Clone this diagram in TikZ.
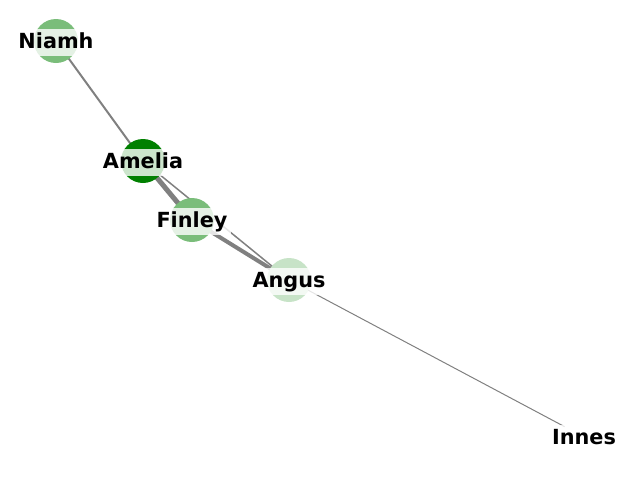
\documentclass[tikz,border=0pt]{standalone}
\usepackage{fontspec}
\setmainfont{DejaVu Sans}
\pgfdeclarelayer{bg}
\pgfsetlayers{bg,main}
\begin{document}
\begin{tikzpicture}[x=1pt,y=-1pt,
  vtx/.style={circle,draw=none,minimum size=44pt,inner sep=0pt},
  lbl/.style={fill=white,fill opacity=0.8,text opacity=1,anchor=base,
    inner xsep=4pt,inner ysep=4.5pt,text height=15pt,text depth=3pt,
    font=\fontsize{20.8}{24}\selectfont\bfseries},
  edge/.style={draw=egray}]
\definecolor{mygreen}{RGB}{0,128,0}
\definecolor{egray}{RGB}{128,128,128}
\useasboundingbox (0,0) rectangle (640,480);
% vertices
\node[vtx,fill=mygreen!52] (Niamh) at (56,41) {};
\node[vtx,fill=mygreen] (Amelia) at (143,161) {};
\node[vtx,fill=mygreen!52] (Finley) at (192,220) {};
\node[vtx,fill=mygreen!22] (Angus) at (289,280) {};
\node[vtx,fill=white] (Innes) at (584,437) {};
% edges (behind nodes)
\begin{pgfonlayer}{bg}
\draw[edge,line width=2pt] (Niamh.center) -- (Amelia.center);
\draw[edge,line width=5pt] (Amelia.center) -- (Finley.center);
\draw[edge,line width=4pt] (Finley.center) -- (Angus.center);
\draw[edge,line width=1.5pt] (Amelia.center) -- (Angus.center);
\draw[edge,line width=1pt] (Angus.center) -- (Innes.center);
\end{pgfonlayer}
% labels
\node[lbl] (lNiamh) at (56,48) {Niamh};
\node[lbl] (lAmelia) at (143,168) {Amelia};
\node[lbl] (lFinley) at (192,227) {Finley};
\node[lbl] (lAngus) at (289,287) {Angus};
\node[lbl] (lInnes) at (584,444) {Innes};
\end{tikzpicture}
\end{document}
